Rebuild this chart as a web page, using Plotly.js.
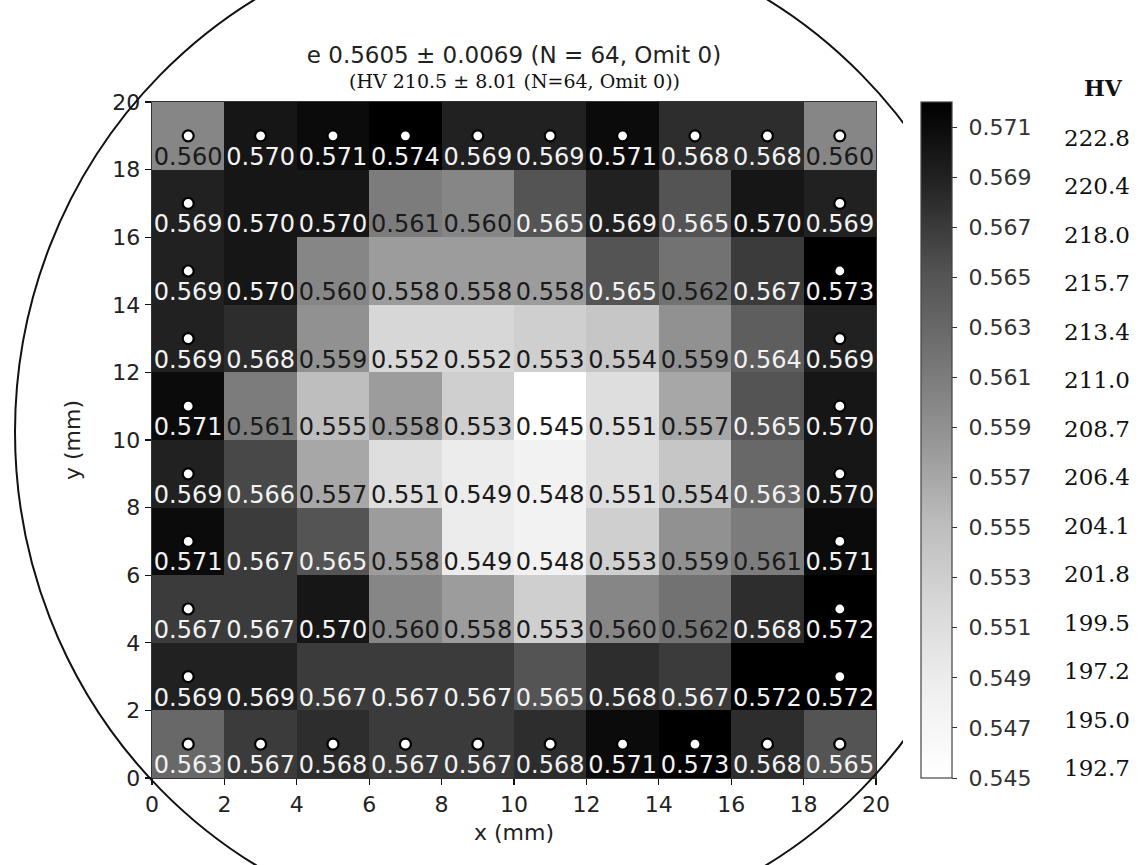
<!DOCTYPE html>
<html>
<head>
<meta charset="utf-8">
<script src="https://cdn.plot.ly/plotly-3.0.1.min.js"></script>
<style>
html,body{margin:0;padding:0;background:#fff;}
#chart{width:1148px;height:865px;}
</style>
</head>
<body>
<div id="chart"></div>
<script>
// Measurement point centres (mm)
const xCenters = [1, 3, 5, 7, 9, 11, 13, 15, 17, 19];
const yCenters = [1, 3, 5, 7, 9, 11, 13, 15, 17, 19];

// e values, one row per y (bottom row first)
const rowY1  = [0.563, 0.567, 0.568, 0.567, 0.567, 0.568, 0.571, 0.573, 0.568, 0.565];
const rowY3  = [0.569, 0.569, 0.567, 0.567, 0.567, 0.565, 0.568, 0.567, 0.572, 0.572];
const rowY5  = [0.567, 0.567, 0.570, 0.560, 0.558, 0.553, 0.560, 0.562, 0.568, 0.572];
const rowY7  = [0.571, 0.567, 0.565, 0.558, 0.549, 0.548, 0.553, 0.559, 0.561, 0.571];
const rowY9  = [0.569, 0.566, 0.557, 0.551, 0.549, 0.548, 0.551, 0.554, 0.563, 0.570];
const rowY11 = [0.571, 0.561, 0.555, 0.558, 0.553, 0.545, 0.551, 0.557, 0.565, 0.570];
const rowY13 = [0.569, 0.568, 0.559, 0.552, 0.552, 0.553, 0.554, 0.559, 0.564, 0.569];
const rowY15 = [0.569, 0.570, 0.560, 0.558, 0.558, 0.558, 0.565, 0.562, 0.567, 0.573];
const rowY17 = [0.569, 0.570, 0.570, 0.561, 0.560, 0.565, 0.569, 0.565, 0.570, 0.569];
const rowY19 = [0.560, 0.570, 0.571, 0.574, 0.569, 0.569, 0.571, 0.568, 0.568, 0.560];
const zRows = [rowY1, rowY3, rowY5, rowY7, rowY9, rowY11, rowY13, rowY15, rowY17, rowY19];

// Colour bar ticks and matching HV values
const cbTicks = [0.545, 0.547, 0.549, 0.551, 0.553, 0.555, 0.557, 0.559, 0.561, 0.563, 0.565, 0.567, 0.569, 0.571];
const hvLabels = ['192.7', '195.0', '197.2', '199.5', '201.8', '204.1', '206.4', '208.7', '211.0', '213.4', '215.7', '218.0', '220.4', '222.8'];
const axisTicks = [0, 2, 4, 6, 8, 10, 12, 14, 16, 18, 20];

const titleMain = 'e 0.5605 ± 0.0069 (N = 64, Omit 0)';
const titleSub = '(HV 210.5 ± 8.01 (N=64, Omit 0))';

const zMin = 0.545, zMax = 0.572;

const greys = [
  [0.0, '#ffffff'], [0.125, '#f0f0f0'], [0.25, '#d9d9d9'], [0.375, '#bdbdbd'],
  [0.5, '#969696'], [0.625, '#737373'], [0.75, '#525252'], [0.875, '#252525'], [1.0, '#000000']
];

// Text and dot traces built from the arrays
const tx = [], ty = [], tt = [], tc = [];
const dx = [], dy = [];
zRows.forEach((row, j) => {
  row.forEach((v, i) => {
    tx.push(xCenters[i]);
    ty.push(yCenters[j] - 0.68);
    tt.push(v.toFixed(3));
    tc.push(v >= 0.5625 ? '#f2f2f2' : '#1a1a1a');
    if (i === 0 || i === row.length - 1 || j === 0 || j === zRows.length - 1) {
      dx.push(xCenters[i]);
      dy.push(yCenters[j]);
    }
  });
});

const heat = {
  type: 'heatmap',
  x: xCenters, y: yCenters, z: zRows,
  zmin: zMin, zmax: zMax,
  colorscale: greys,
  hoverinfo: 'skip',
  colorbar: {
    x: 1.062, xanchor: 'left', xpad: 0,
    y: 0.5, yanchor: 'middle', ypad: 0,
    len: 1, lenmode: 'fraction',
    thickness: 31, thicknessmode: 'pixels',
    outlinecolor: '#444', outlinewidth: 1.2,
    tickmode: 'array', tickvals: cbTicks, ticktext: cbTicks.map(v => ' ' + v.toFixed(3)),
    ticks: 'outside', ticklen: 5, tickwidth: 1, tickcolor: '#333',
    tickfont: {family: 'DejaVu Sans', size: 22, color: '#333'}
  }
};

const labels = {
  type: 'scatter', mode: 'text',
  x: tx, y: ty, text: tt,
  textfont: {family: 'DejaVu Sans', size: 24, color: tc},
  textposition: 'middle center',
  hoverinfo: 'skip', showlegend: false
};

const dots = {
  type: 'scatter', mode: 'markers',
  x: dx, y: dy,
  marker: {size: 11, color: '#ffffff', line: {color: '#000000', width: 2.2}},
  hoverinfo: 'skip', showlegend: false
};

// plot area: x 152..876 px, y 102..778 px
const plotL = 152, plotR = 876, plotT = 102, plotB = 778;
const pw = plotR - plotL, ph = plotB - plotT;
const px = v => (v - plotL) / pw;
const py = v => (plotB - v) / ph;

const annotations = [
  {xref: 'paper', yref: 'paper', x: px(514), y: py(81), xanchor: 'center', yanchor: 'middle',
   text: titleSub, showarrow: false, font: {family: 'DejaVu Serif', size: 19, color: '#111'}},
  {xref: 'paper', yref: 'paper', x: px(1103), y: py(88), xanchor: 'center', yanchor: 'middle',
   text: '<b>HV</b>', showarrow: false, font: {family: 'DejaVu Serif', size: 22, color: '#111'}}
];
const hvTop = 138, hvBottom = 768;
hvLabels.forEach((t, k) => {
  const yy = hvBottom - (hvBottom - hvTop) * k / (hvLabels.length - 1);
  annotations.push({xref: 'paper', yref: 'paper', x: px(1132), y: py(yy), xanchor: 'right', yanchor: 'middle',
    text: t, showarrow: false, font: {family: 'DejaVu Serif', size: 23, color: '#111'}});
});

const layout = {
  width: 1148, height: 865,
  margin: {l: plotL, r: 1148 - plotR, t: plotT, b: 865 - plotB, pad: 0},
  paper_bgcolor: '#ffffff', plot_bgcolor: '#ffffff',
  showlegend: false,
  title: {text: titleMain, x: 514 / 1148, xanchor: 'center', xref: 'container',
          y: 1 - 55 / 865, yanchor: 'middle', yref: 'container',
          font: {family: 'DejaVu Sans', size: 23, color: '#222'}},
  xaxis: {range: [0, 20], tickmode: 'array', tickvals: axisTicks, ticks: 'outside', ticklen: 6, tickwidth: 1.3,
          tickcolor: '#111', showgrid: false, zeroline: false, showline: true, mirror: true, linecolor: '#333', linewidth: 1.3,
          tickfont: {family: 'DejaVu Sans', size: 22, color: '#222'},
          title: {text: 'x (mm)', standoff: 9, font: {family: 'DejaVu Sans', size: 22, color: '#222'}}},
  yaxis: {range: [0, 20], tickmode: 'array', tickvals: axisTicks, ticks: 'outside', ticklen: 6, tickwidth: 1.3,
          tickcolor: '#111', showgrid: false, zeroline: false, showline: true, mirror: true, linecolor: '#333', linewidth: 1.3,
          tickfont: {family: 'DejaVu Sans', size: 22, color: '#222'},
          title: {text: 'y (mm)', standoff: 25, font: {family: 'DejaVu Sans', size: 22, color: '#222'}}},
  shapes: [
    {type: 'circle', xref: 'paper', yref: 'paper', layer: 'above',
     x0: px(511 - 496), x1: px(511 + 496), y0: py(432 + 505), y1: py(432 - 505),
     line: {color: '#111', width: 2}, fillcolor: 'rgba(0,0,0,0)'},
    {type: 'rect', xref: 'paper', yref: 'paper', layer: 'above',
     x0: px(903), x1: px(1160), y0: py(880), y1: py(-20),
     line: {width: 0}, fillcolor: '#ffffff'}
  ],
  annotations: annotations
};

Plotly.newPlot('chart', [heat, labels, dots], layout, {displayModeBar: false, staticPlot: true});
</script>
</body>
</html>
